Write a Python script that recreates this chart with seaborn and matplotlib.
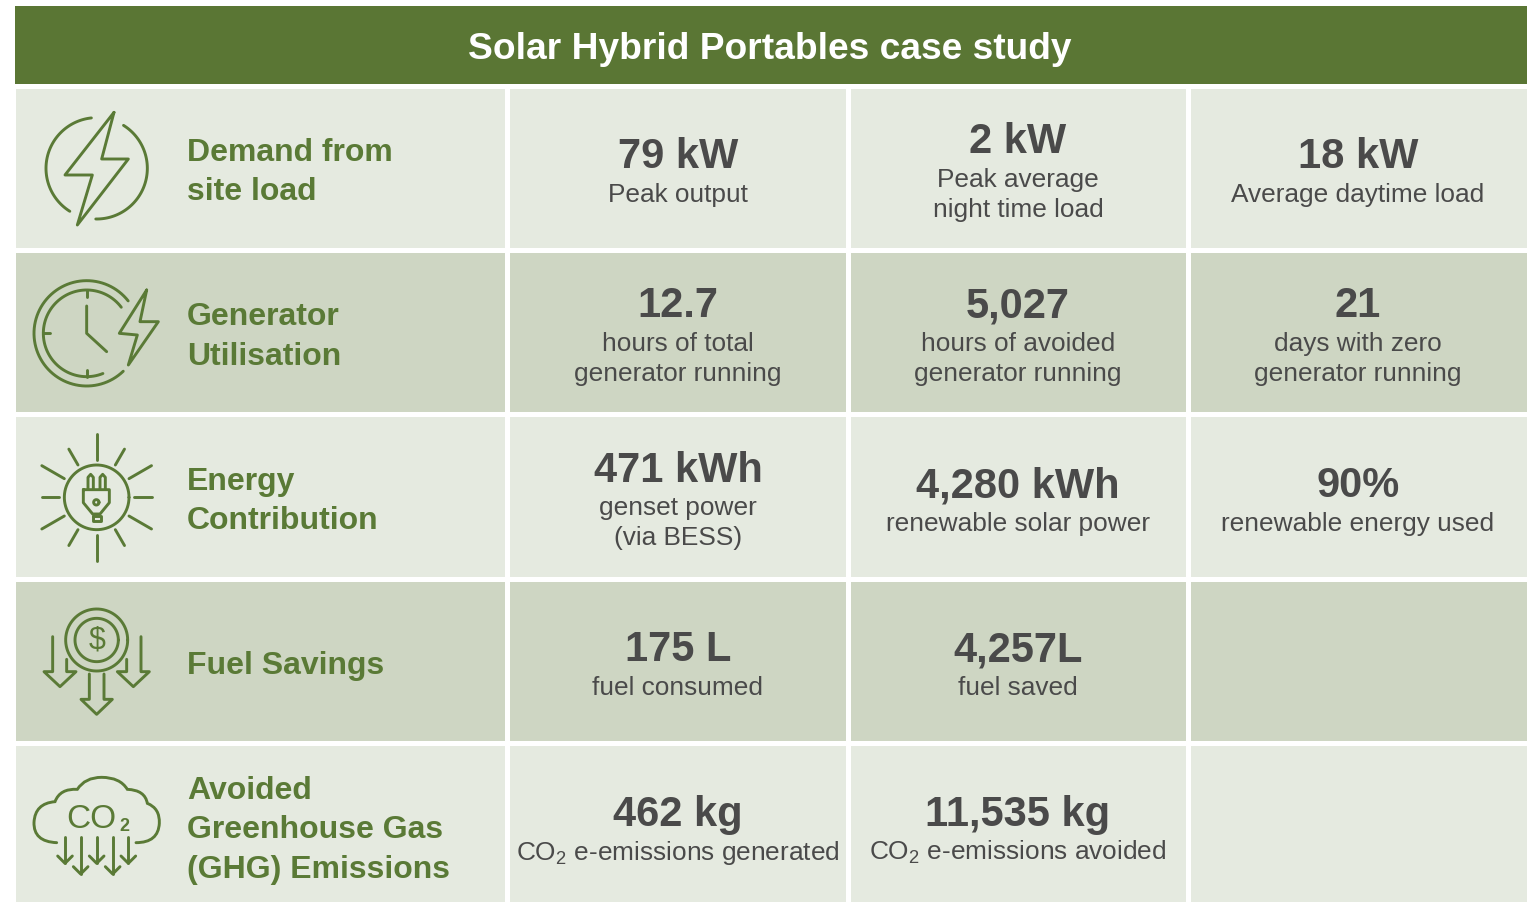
import numpy as np
import pandas as pd
import seaborn as sns
import matplotlib.pyplot as plt
from matplotlib.colors import ListedColormap
from matplotlib.patches import PathPatch
from matplotlib.path import Path

# Table content
title = 'Solar Hybrid Portables case study'
categories = ['Demand from\nsite load', 'Generator\nUtilisation', 'Energy\nContribution',
              'Fuel Savings', 'Avoided\nGreenhouse Gas\n(GHG) Emissions']
col1_values = ['79 kW', '12.7', '471 kWh', '175 L', '462 kg']
col1_notes = ['Peak output', 'hours of total\ngenerator running', 'genset power\n(via BESS)',
              'fuel consumed', 'CO$_2$ e-emissions generated']
col2_values = ['2 kW', '5,027', '4,280 kWh', '4,257L', '11,535 kg']
col2_notes = ['Peak average\nnight time load', 'hours of avoided\ngenerator running',
              'renewable solar power', 'fuel saved', 'CO$_2$ e-emissions avoided']
col3_values = ['18 kW', '21', '90%', '', '']
col3_notes = ['Average daytime load', 'days with zero\ngenerator running',
              'renewable energy used', '', '']

GREEN = '#5a7a36'
HEADER = '#5a7634'
DARK = '#4a4a4a'
W, H = 1529, 902

sns.set_theme(style='white')
plt.rcParams['font.family'] = ['Liberation Sans', 'DejaVu Sans']
plt.rcParams['mathtext.default'] = 'regular'

fig = plt.figure(figsize=(W / 100, H / 100), dpi=100, facecolor='white')


def px_axes(x0, y0, x1, y1):
    return fig.add_axes([x0 / W, 1 - y1 / H, (x1 - x0) / W, (y1 - y0) / H])


# Banded cells, one heatmap per column width
band = pd.DataFrame({'row': [0, 1, 0, 1, 0]})
cmap = ListedColormap(['#e5eae0', '#ced6c3'])
top, row_h = 85.5, 164.4
bottom = top + row_h * len(categories)

ax_cat = px_axes(12.5, top, 507.5, bottom)
sns.heatmap(band, ax=ax_cat, cmap=cmap, vmin=0, vmax=1, cbar=False, linewidths=3.6,
            linecolor='white', xticklabels=False, yticklabels=False)
ax_val = px_axes(507.5, top, 1528.5, bottom)
sns.heatmap(pd.concat([band] * 3, axis=1), ax=ax_val, cmap=cmap, vmin=0, vmax=1, cbar=False,
            linewidths=3.6, linecolor='white', xticklabels=False, yticklabels=False)
ax_head = px_axes(15, 6, 1527, 84)
sns.heatmap(pd.DataFrame([[0]]), ax=ax_head, cmap=ListedColormap([HEADER]), cbar=False,
            xticklabels=False, yticklabels=False)

# Overlay in pixel coordinates for text and icons
ax = px_axes(0, 0, W, H)
ax.set_xlim(0, W)
ax.set_ylim(H, 0)
ax.axis('off')
ax.patch.set_alpha(0)

ax.text(770, 59, title, color='white', fontsize=26.7, fontweight='bold', ha='center', va='baseline')

col_x = [678, 1018, 1358]
columns = [(col1_values, col1_notes), (col2_values, col2_notes), (col3_values, col3_notes)]
for i, label in enumerate(categories):
    center = top + 1 + row_h * (i + 0.5)
    lines = label.split('\n')
    base = center + 12 - 19.75 * (len(lines) - 1)
    for j, line in enumerate(lines):
        ax.text(187, base + 39.5 * j, line, color=GREEN, fontsize=23, fontweight='bold',
                ha='left', va='baseline')
    for x, (values, notes) in zip(col_x, columns):
        if not values[i]:
            continue
        note_lines = notes[i].split('\n')
        y = center - 0.5 if len(note_lines) == 1 else center - 16
        ax.text(x, y, values[i], color=DARK, fontsize=30, fontweight='bold', ha='center', va='baseline')
        for j, line in enumerate(note_lines):
            ax.text(x, y + 34 + 30 * j, line, color=DARK, fontsize=18.9, ha='center', va='baseline')


# Icons, traced in the 3x crop coordinates
def icon_line(pts, dy, closed=False):
    pts = np.array(pts, dtype=float)
    if closed:
        pts = np.vstack([pts, pts[0]])
    ax.plot(pts[:, 0] / 3, dy + pts[:, 1] / 3, color=GREEN, lw=2.1, solid_capstyle='round',
            solid_joinstyle='round')


def icon_arc(cx, cy, r, a0, a1, dy):
    t = np.radians(np.linspace(a0, a1, 80))
    icon_line(np.column_stack([cx + r * np.cos(t), cy + r * np.sin(t)]), dy)


# demand
icon_arc(290, 265, 152, 122, 264, 80)
icon_arc(290, 265, 152, -58, 91, 80)
icon_line([(342, 97), (305, 237), (385, 237), (232, 435), (277, 285), (195, 285)], 80, closed=True)

# generator
icon_arc(260, 760, 158, 46, 322, 80)
icon_arc(260, 760, 130, 68, 323, 80)
icon_line([(260, 630), (260, 650)], 80)
icon_line([(130, 760), (150, 760)], 80)
icon_line([(260, 870), (260, 890)], 80)
icon_line([(260, 678), (260, 760), (320, 815)], 80)
icon_line([(440, 630), (420, 725), (475, 725), (385, 855), (412, 765), (358, 760)], 80, closed=True)

# energy
icon_arc(290, 232, 97, 0, 360, 420)
for deg, outer in zip(range(0, 360, 30), [165, 190, 167, 190, 167, 190, 165, 190, 167, 190, 167, 190]):
    t = np.radians(deg)
    icon_line([(290 + 112 * np.cos(t), 232 + 112 * np.sin(t)),
               (290 + outer * np.cos(t), 232 + outer * np.sin(t))], 420)
icon_line([(264, 207), (264, 172), (272, 163), (280, 172), (280, 207)], 420)
icon_line([(300, 207), (300, 172), (308, 163), (316, 172), (316, 207)], 420)
icon_line([(250, 209), (328, 209), (328, 248), (300, 282), (278, 282), (250, 248)], 420, closed=True)
icon_line([(278, 288), (302, 288), (302, 302), (278, 302)], 420, closed=True)
icon_arc(289, 247, 8, 0, 360, 420)

# fuel
icon_arc(290, 660, 93, 0, 360, 420)
icon_arc(290, 660, 65, 0, 360, 420)
ax.text(96.7, 420 + 662 / 3, '$', color=GREEN, fontsize=22, ha='center', va='center', parse_math=False)
icon_line([(158, 650), (158, 755), (132, 755), (180, 800), (228, 755), (200, 755), (200, 718)], 420)
icon_line([(423, 650), (423, 755), (448, 755), (400, 800), (352, 755), (380, 755), (380, 718)], 420)
icon_line([(268, 762), (268, 838), (243, 838), (290, 883), (337, 838), (312, 838), (312, 762)], 420)

# co2
cloud = [(170, 1268), (100, 1265), (102, 1207), (105, 1150), (165, 1145), (180, 1105), (232, 1108),
         (255, 1072), (305, 1072), (360, 1072), (382, 1108), (435, 1110), (442, 1150), (480, 1165),
         (478, 1210), (475, 1268), (408, 1268)]
verts = [(x / 3, 420 + y / 3) for x, y in cloud]
codes = [Path.MOVETO] + [Path.CURVE3] * (len(verts) - 1)
ax.add_patch(PathPatch(Path(verts, codes), fill=False, edgecolor=GREEN, lw=2.1, capstyle='round'))
ax.text(275 / 3, 420 + 1225 / 3, 'CO', color=GREEN, fontsize=24, ha='center', va='baseline')
ax.text(374 / 3, 420 + 1232 / 3, '2', color=GREEN, fontsize=13, fontweight='bold', ha='center', va='baseline')
for x, end in zip([195, 242, 290, 338, 385], [1330, 1362, 1330, 1362, 1330]):
    icon_line([(x, 1250), (x, end)], 420)
    icon_line([(x - 22, end - 22), (x, end), (x + 22, end - 22)], 420)

fig.savefig('out.png', dpi=100)
